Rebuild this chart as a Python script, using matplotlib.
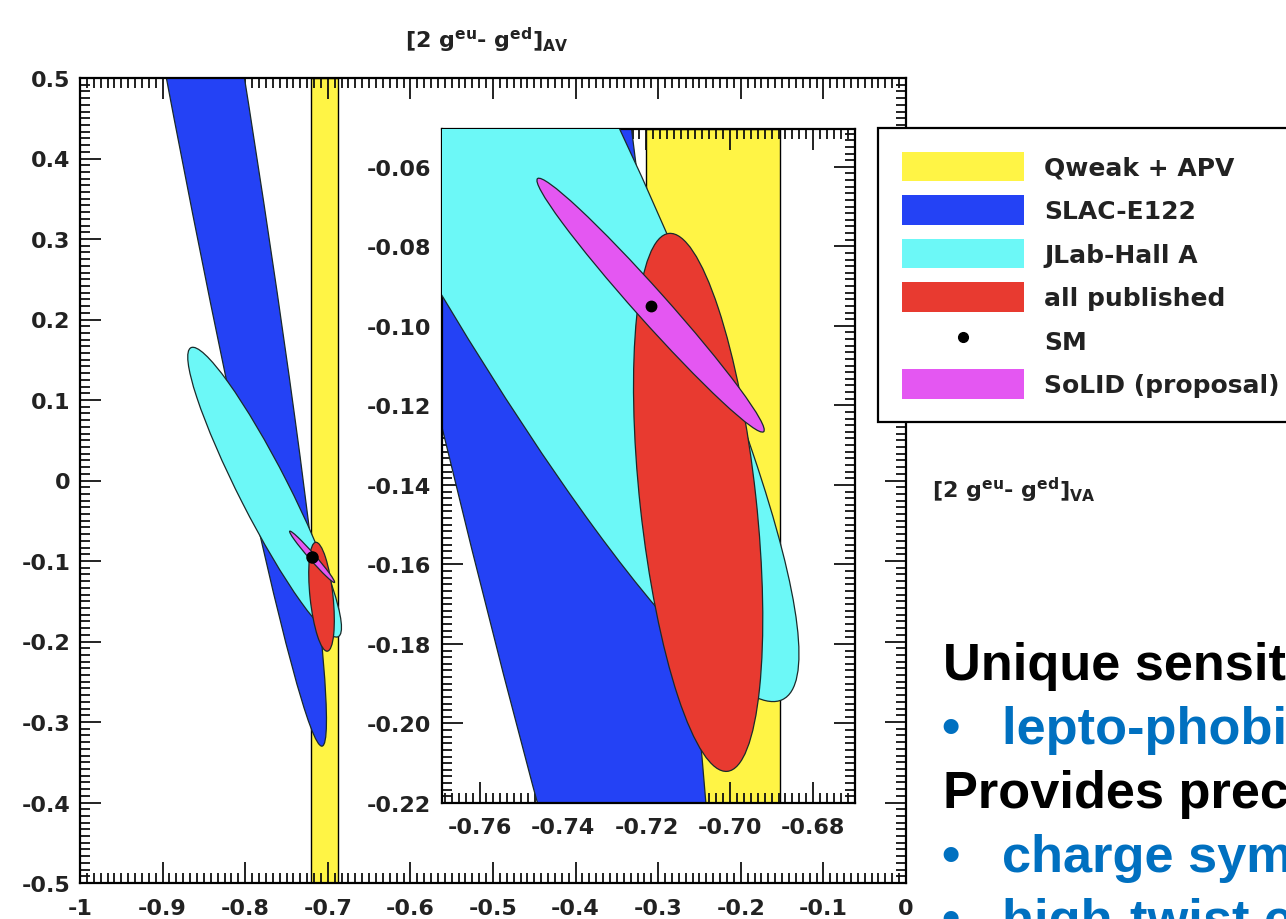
import numpy as np
import matplotlib

matplotlib.use("Agg")
import matplotlib.pyplot as plt
from matplotlib.patches import Ellipse, Patch
from matplotlib.lines import Line2D
from matplotlib.ticker import AutoMinorLocator

# ---- data ----
legend_labels = ["Qweak + APV", "SLAC-E122", "JLab-Hall A", "all published", "SM", "SoLID (proposal)"]
qweak_color = "#FFF445"
slac_color = "#2442F5"
jlab_color = "#6CF8F7"
published_color = "#E83A30"
solid_color = "#E457F2"

# vertical band [x_low, x_high]
qweak_band = [-0.720, -0.688]
# ellipses: centre x, centre y, semi-major, semi-minor, angle (deg)
slac_ellipse = [-0.9406, 1.0443, 1.394, 0.0508, 99.65]
jlab_ellipse = [-0.7765, -0.0145, 0.2004, 0.0300, -63.6]
published_ellipse = [-0.7076, -0.1444, 0.0680, 0.0139, 95.9]
solid_ellipse = [-0.7190, -0.0948, 0.0418, 0.0038, -49.6]
sm_point = [-0.719, -0.095]

main_xticks = [-1.0, -0.9, -0.8, -0.7, -0.6, -0.5, -0.4, -0.3, -0.2, -0.1, 0.0]
main_xlabels = ["-1", "-0.9", "-0.8", "-0.7", "-0.6", "-0.5", "-0.4", "-0.3", "-0.2", "-0.1", "0"]
main_yticks = [0.5, 0.4, 0.3, 0.2, 0.1, 0.0, -0.1, -0.2, -0.3, -0.4, -0.5]
main_ylabels = ["0.5", "0.4", "0.3", "0.2", "0.1", "0", "-0.1", "-0.2", "-0.3", "-0.4", "-0.5"]
inset_xticks = [-0.76, -0.74, -0.72, -0.70, -0.68]
inset_xlabels = ["-0.76", "-0.74", "-0.72", "-0.70", "-0.68"]
inset_yticks = [-0.06, -0.08, -0.10, -0.12, -0.14, -0.16, -0.18, -0.20, -0.22]
inset_ylabels = ["-0.06", "-0.08", "-0.10", "-0.12", "-0.14", "-0.16", "-0.18", "-0.20", "-0.22"]

slide_lines = [
    ("", "Unique sensitivity to:", "black"),
    ("\u2022", "lepto-phobic Z'", "#0070C0"),
    ("", "Provides precision data on:", "black"),
    ("\u2022", "charge symmetry violation", "#0070C0"),
    ("\u2022", "high-twist effects", "#0070C0"),
]

W, H = 1286, 920
plt.rcParams["mathtext.default"] = "bf"
plt.rcParams["mathtext.fontset"] = "dejavusans"


def fx(px):
    return px / W


def fy(py):
    return 1 - py / H


def add_ellipse(ax, params, color, z):
    cx, cy, a, b, ang = params
    ax.add_patch(Ellipse((cx, cy), 2 * a, 2 * b, angle=ang, facecolor=color,
                         edgecolor="#1a2a2a", linewidth=0.9, zorder=z))


def draw_regions(ax, dot_size):
    ax.axvspan(qweak_band[0], qweak_band[1], facecolor=qweak_color,
               edgecolor="black", linewidth=1.0, zorder=1)
    add_ellipse(ax, slac_ellipse, slac_color, 2)
    add_ellipse(ax, jlab_ellipse, jlab_color, 3)
    add_ellipse(ax, published_ellipse, published_color, 4)
    add_ellipse(ax, solid_ellipse, solid_color, 5)
    ax.plot(sm_point[0], sm_point[1], "o", color="black", markersize=dot_size, zorder=6)


def style_axis(ax, xpad, ypad):
    ax.xaxis.set_minor_locator(AutoMinorLocator(12))
    ax.yaxis.set_minor_locator(AutoMinorLocator(12))
    ax.tick_params(which="both", direction="in", top=True, right=True,
                   width=1.3, colors="#111111")
    ax.tick_params(which="major", length=15, labelsize=16)
    ax.tick_params(which="minor", length=7)
    ax.tick_params(axis="x", pad=xpad)
    ax.tick_params(axis="y", pad=ypad)
    for lab in ax.get_xticklabels() + ax.get_yticklabels():
        lab.set_fontweight("bold")
        lab.set_color("#222222")
    for sp in ax.spines.values():
        sp.set_linewidth(1.6)


fig = plt.figure(figsize=(W / 100, H / 100), dpi=100)

# main panel
ax = fig.add_axes([fx(80), fy(884), fx(906) - fx(80), fy(79) - fy(884)], zorder=1)
draw_regions(ax, 8)
ax.set_xlim(-1, 0)
ax.set_ylim(-0.5, 0.5)
ax.set_xticks(main_xticks, main_xlabels)
ax.set_yticks(main_yticks, main_ylabels)
style_axis(ax, 11, 7)

# zoomed inset
axi = fig.add_axes([fx(442), fy(804), fx(855) - fx(442), fy(130) - fy(804)], zorder=2)
axi.set_facecolor("white")
draw_regions(axi, 7.5)
axi.set_xlim(-0.769, -0.670)
axi.set_ylim(-0.22, -0.0505)
axi.set_xticks(inset_xticks, inset_xlabels)
axi.set_yticks(inset_yticks, inset_ylabels)
style_axis(axi, 10, 8)

# axis titles
fig.text(fx(405), fy(40), r"[2 g$^{eu}$- g$^{ed}$]$_{AV}$", fontsize=16,
         fontweight="bold", color="#222222", va="center", ha="left")
fig.text(fx(932), fy(490), r"[2 g$^{eu}$- g$^{ed}$]$_{VA}$", fontsize=16,
         fontweight="bold", color="#222222", va="center", ha="left")

# legend
handles = [
    Patch(facecolor=qweak_color, edgecolor="none"),
    Patch(facecolor=slac_color, edgecolor="none"),
    Patch(facecolor=jlab_color, edgecolor="none"),
    Patch(facecolor=published_color, edgecolor="none"),
    Line2D([], [], marker="o", color="black", linestyle="none", markersize=7),
    Patch(facecolor=solid_color, edgecolor="none"),
]
leg = fig.legend(handles, legend_labels, loc="upper left",
                 bbox_to_anchor=(fx(878), fy(129)), borderaxespad=0,
                 prop={"family": "DejaVu Sans", "weight": "bold", "size": 18},
                 handlelength=4.9, handleheight=1.45, labelspacing=0.55,
                 handletextpad=0.8, borderpad=0.95, fancybox=False,
                 framealpha=1, edgecolor="black")
leg.get_frame().set_linewidth(1.6)
for t in leg.get_texts():
    t.set_color("#222222")

# slide text on the right
base_y = 680
for i, (bullet, text, color) in enumerate(slide_lines):
    y = base_y + i * 64
    if bullet:
        fig.text(fx(941), fy(y), bullet, fontsize=37.7, family="Liberation Sans",
                 fontweight="bold", color=color, va="baseline")
        fig.text(fx(1002), fy(y), text, fontsize=37.7, family="Liberation Sans",
                 fontweight="bold", color=color, va="baseline")
    else:
        fig.text(fx(943), fy(y), text, fontsize=37.7, family="Liberation Sans",
                 fontweight="bold", color=color, va="baseline")

fig.savefig("out.png", dpi=100)
